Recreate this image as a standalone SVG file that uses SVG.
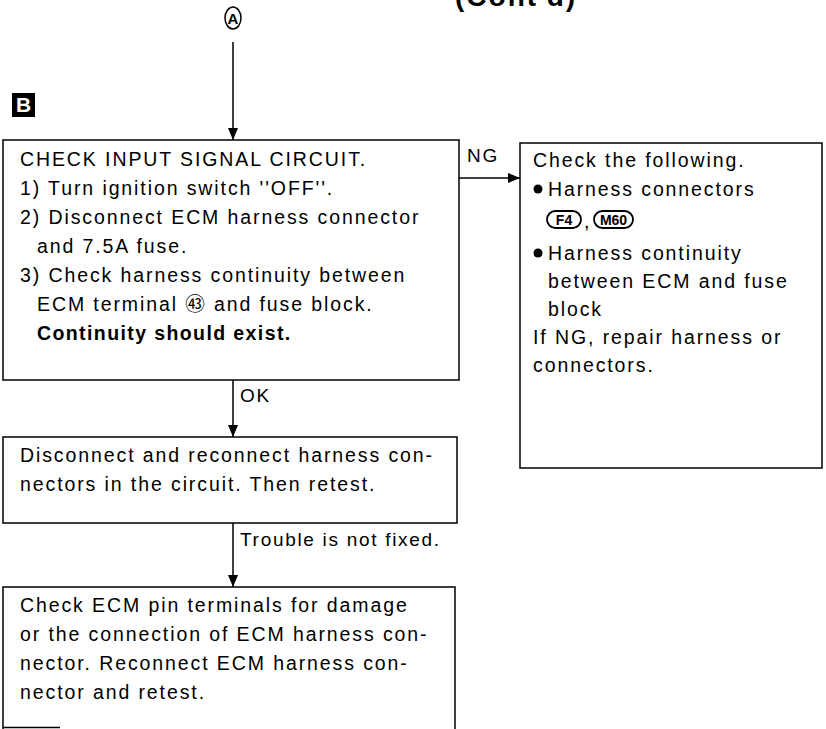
<svg xmlns="http://www.w3.org/2000/svg" width="826" height="729" viewBox="0 0 826 729">
<defs>
<style>
.box{fill:#fff;stroke:#000;stroke-width:1.5}
.t{font-family:"Liberation Sans",Arial,"Noto Sans CJK JP",sans-serif;font-size:19.5px;letter-spacing:1.9px;fill:#000}
.b{font-weight:bold;letter-spacing:1.4px}
.lbl{font-family:"Liberation Sans",Arial,sans-serif;font-size:19px;letter-spacing:1.7px;fill:#000}
.pill{fill:#fff;stroke:#000;stroke-width:1.8}
.pt{font-family:"Liberation Sans Narrow","Liberation Sans",Arial,sans-serif;font-weight:bold;font-size:14px;fill:#000;text-anchor:middle}
.ln{stroke:#000;stroke-width:1.5;fill:none}
</style>
<marker id="ah" viewBox="0 0 12 10" refX="12" refY="5" markerWidth="12" markerHeight="10" markerUnits="userSpaceOnUse" orient="auto">
<path d="M0,0 L12,5 L0,10 z" fill="#000"/>
</marker>
</defs>
<rect width="826" height="729" fill="#fff"/>

<text x="455" y="6" style="font-family:'Liberation Sans',Arial,sans-serif;font-weight:bold;font-size:28px;letter-spacing:2px">(Cont'd)</text>

<g id="startA">
<ellipse cx="233" cy="18" rx="8" ry="11" fill="#fff" stroke="#000" stroke-width="1.5"/>
<text x="233" y="24" text-anchor="middle" style="font-family:'Liberation Sans Narrow','Liberation Sans',Arial,sans-serif;font-weight:bold;font-size:15px">A</text>
</g>

<g id="labelB">
<rect x="12" y="93" width="23" height="24" fill="#000"/>
<text x="23.5" y="112" text-anchor="middle" style="font-family:'Liberation Sans',Arial,sans-serif;font-weight:bold;font-size:21px;fill:#fff">B</text>
</g>

<g id="connectors">
<line class="ln" x1="233" y1="42" x2="233" y2="140" marker-end="url(#ah)"/>
<line class="ln" x1="459" y1="178" x2="520" y2="178" marker-end="url(#ah)"/>
<text class="lbl" x="467" y="162">NG</text>
<line class="ln" x1="233" y1="380" x2="233" y2="437" marker-end="url(#ah)"/>
<text class="lbl" x="240" y="402">OK</text>
<line class="ln" x1="233" y1="523" x2="233" y2="587" marker-end="url(#ah)"/>
<text class="lbl" x="240" y="546">Trouble is not fixed.</text>
</g>

<g id="checkInput">
<rect class="box" x="3" y="140" width="456" height="240"/>
<text class="t" x="20" y="166">CHECK INPUT SIGNAL CIRCUIT.</text>
<text class="t" x="20" y="195">1) Turn ignition switch ''OFF''.</text>
<text class="t" x="20" y="224">2) Disconnect ECM harness connector</text>
<text class="t" x="37" y="253">and 7.5A fuse.</text>
<text class="t" x="20" y="282">3) Check harness continuity between</text>
<text class="t" x="37" y="311">ECM terminal ㊸ and fuse block.</text>
<text class="t b" x="37" y="340">Continuity should exist.</text>
</g>

<g id="checkFollowing">
<rect class="box" x="520" y="143" width="302" height="325"/>
<text class="t" x="533" y="167">Check the following.</text>
<circle cx="538" cy="189" r="4.5"/>
<text class="t" x="548" y="196">Harness connectors</text>
<rect class="pill" x="547" y="211" width="34" height="17" rx="8.5"/>
<text class="pt" x="564" y="225">F4</text>
<text class="t" x="584" y="228">,</text>
<rect class="pill" x="594" y="211" width="39" height="17" rx="8.5"/>
<text class="pt" x="613.5" y="225">M60</text>
<circle cx="538" cy="253" r="4.5"/>
<text class="t" x="548" y="260">Harness continuity</text>
<text class="t" x="548" y="288">between ECM and fuse</text>
<text class="t" x="548" y="316">block</text>
<text class="t" x="533" y="344">If NG, repair harness or</text>
<text class="t" x="533" y="372">connectors.</text>
</g>

<g id="reconnect">
<rect class="box" x="3" y="437" width="454" height="86"/>
<text class="t" x="20" y="462">Disconnect and reconnect harness con-</text>
<text class="t" x="20" y="491">nectors in the circuit. Then retest.</text>
</g>

<g id="checkPins">
<path class="ln" d="M3,729 V587 H455 V729 M3,727.5 H60"/>
<text class="t" x="20" y="612">Check ECM pin terminals for damage</text>
<text class="t" x="20" y="641">or the connection of ECM harness con-</text>
<text class="t" x="20" y="670">nector. Reconnect ECM harness con-</text>
<text class="t" x="20" y="699">nector and retest.</text>
</g>
</svg>
